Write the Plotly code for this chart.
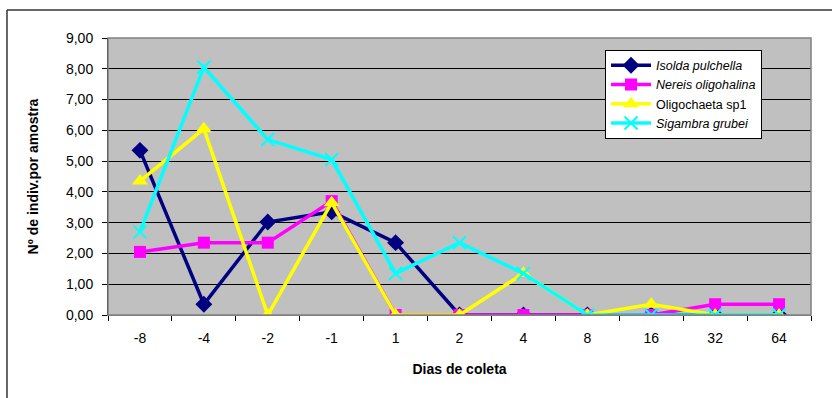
import plotly.graph_objects as go

dias = ["-8", "-4", "-2", "-1", "1", "2", "4", "8", "16", "32", "64"]
isolda = [5.35, 0.35, 3.02, 3.35, 2.35, 0, 0, 0, 0, 0, 0]
nereis = [2.05, 2.35, 2.35, 3.7, 0, 0, 0, 0, 0, 0.35, 0.35]
oligo = [4.35, 6.05, 0, 3.65, 0, 0, 1.35, 0, 0.35, 0, 0]
sigambra = [2.7, 8.05, 5.7, 5.05, 1.35, 2.35, 1.35, 0, 0, 0, 0]
yticks = [0, 1, 2, 3, 4, 5, 6, 7, 8, 9]
yticklabels = ["0,00", "1,00", "2,00", "3,00", "4,00", "5,00", "6,00", "7,00", "8,00", "9,00"]

fig = go.Figure()
fig.add_trace(go.Scatter(x=dias, y=isolda, name="<i>Isolda pulchella</i>", mode="lines+markers",
                         line=dict(color="#000080", width=3.5),
                         marker=dict(symbol="diamond", size=13, color="#000080")))
fig.add_trace(go.Scatter(x=dias, y=nereis, name="<i>Nereis oligohalina</i>", mode="lines+markers",
                         line=dict(color="#FF00FF", width=3.5),
                         marker=dict(symbol="square", size=12, color="#FF00FF")))
fig.add_trace(go.Scatter(x=dias, y=oligo, name="Oligochaeta sp1", mode="lines+markers",
                         line=dict(color="#FFFF00", width=3.5),
                         marker=dict(symbol="triangle-up", size=14, color="#FFFF00")))
fig.add_trace(go.Scatter(x=dias, y=sigambra, name="<i>Sigambra grubei</i>", mode="lines+markers",
                         line=dict(color="#00FFFF", width=3.5),
                         marker=dict(symbol="x-thin", size=13, color="#00FFFF",
                                     line=dict(color="#00FFFF", width=2))))

fig.update_layout(
    width=832, height=398, autosize=False,
    margin=dict(l=108, r=21, t=38, b=83),
    paper_bgcolor="white", plot_bgcolor="#C0C0C0",
    font=dict(family="Liberation Sans, Arial, sans-serif", size=14, color="black"),
    showlegend=True,
    legend=dict(x=0.707, y=0.958, xanchor="left", yanchor="top",
                bgcolor="white", bordercolor="black", borderwidth=1,
                font=dict(size=12.5), tracegroupgap=0, itemwidth=40),
    xaxis=dict(type="category", categoryorder="array", categoryarray=dias,
               range=[-0.5, len(dias) - 0.5],
               showgrid=False, ticks="outside", ticklen=5, tickcolor="black",
               tickson="boundaries", showline=True, linecolor="#808080", linewidth=1,
               ticklabelstandoff=10,
               title=dict(text="<b>Dias de coleta</b>", font=dict(size=14), standoff=19),
               tickfont=dict(size=14)),
    yaxis=dict(range=[0, 9], tickvals=yticks, ticktext=yticklabels,
               showgrid=True, gridcolor="black", gridwidth=1,
               ticks="outside", ticklen=5, tickcolor="black", ticklabelstandoff=6,
               showline=True, linecolor="black", linewidth=1, zeroline=False,
               title=dict(text="<b>Nº de indiv.por amostra</b>", font=dict(size=14), standoff=24),
               tickfont=dict(size=14)),
    shapes=[
        dict(type="rect", xref="paper", yref="paper", x0=0, y0=0, x1=1, y1=1,
             line=dict(color="#808080", width=1.5), layer="above"),
        dict(type="line", xref="paper", yref="paper", x0=-0.1437, y0=-0.5, x1=-0.1437, y1=1.101,
             line=dict(color="#333333", width=1.5), layer="above"),
        dict(type="line", xref="paper", yref="paper", x0=-0.1437, y0=1.101, x1=1.3, y1=1.101,
             line=dict(color="#333333", width=1.5), layer="above"),
    ],
)

fig.write_html("out.html", config={"displayModeBar": False, "responsive": False},
               post_script="document.body.style.margin='0';document.body.style.overflow='hidden';")
